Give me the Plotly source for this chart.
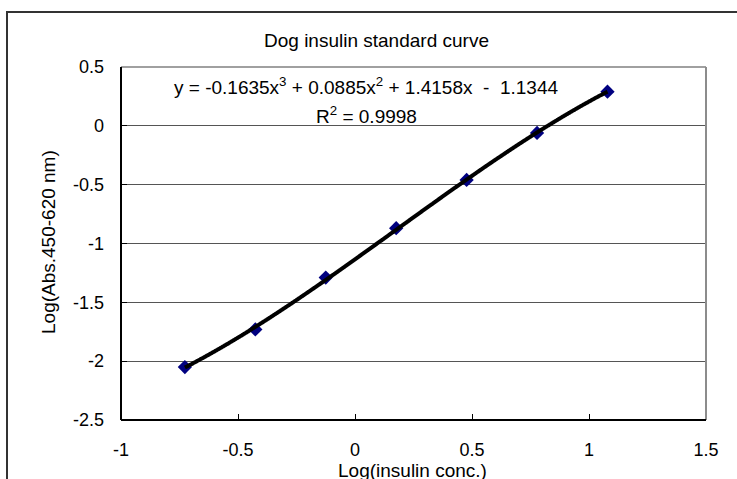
import numpy as np
import plotly.graph_objects as go

# Standard points: log10 of insulin concentration vs log10 of corrected absorbance
log_conc = [-0.727, -0.426, -0.125, 0.176, 0.477, 0.778, 1.079]
log_abs = [-2.05, -1.73, -1.29, -0.87, -0.46, -0.06, 0.29]

# Third-order polynomial trendline coefficients (highest power first)
trend_coef = [-0.1635, 0.0885, 1.4158, -1.1344]
r_squared = 0.9998

x_ticks = [-1, -0.5, 0, 0.5, 1, 1.5]
x_tick_text = ["-1", "-0.5", "0", "0.5", "1", "1.5"]
y_ticks = [-2.5, -2, -1.5, -1, -0.5, 0, 0.5]
y_tick_text = ["-2.5", "-2", "-1.5", "-1", "-0.5", "0", "0.5"]

FONT = "Liberation Sans, Arial, sans-serif"
W, H = 737, 479
L, R, T, B = 121, 31, 67, 59
PW, PH = W - L - R, H - T - B


def px_x(p):
    return (p - L) / PW


def px_y(p):
    return (H - B - p) / PH


fit_x = np.linspace(min(log_conc), max(log_conc), 400)
fit_y = np.polyval(trend_coef, fit_x)

fig = go.Figure()
fig.add_trace(go.Scatter(
    x=log_conc, y=log_abs, mode="markers",
    marker=dict(symbol="diamond", size=11, color="#000080",
                line=dict(width=0)),
    showlegend=False, hoverinfo="x+y"))
fig.add_trace(go.Scatter(
    x=fit_x, y=fit_y, mode="lines",
    line=dict(color="black", width=4, shape="spline"),
    showlegend=False, hoverinfo="skip"))

tick_font = dict(family=FONT, size=18, color="black")

fig.update_xaxes(
    range=[-1, 1.5], tickvals=x_ticks, ticktext=x_tick_text,
    showgrid=False, zeroline=False, showline=False,
    ticks="inside", ticklen=6, tickwidth=1, tickcolor="black",
    tickfont=tick_font, ticklabelstandoff=17)
fig.update_yaxes(
    range=[-2.5, 0.5], tickvals=y_ticks, ticktext=y_tick_text,
    showgrid=True, gridcolor="#555555", gridwidth=1,
    zeroline=False, showline=False,
    ticks="inside", ticklen=6, tickwidth=1, tickcolor="black",
    tickfont=tick_font, ticklabelstandoff=16)

shapes = [
    # chart frame
    dict(type="rect", xref="paper", yref="paper",
         x0=px_x(7), x1=px_x(760), y0=px_y(500), y1=px_y(12),
         line=dict(color="#333333", width=2), layer="above"),
    # plot area frame: grey top and right
    dict(type="line", xref="paper", yref="paper", x0=0, x1=1, y0=1, y1=1,
         line=dict(color="#a0a0a0", width=2), layer="above"),
    dict(type="line", xref="paper", yref="paper", x0=1, x1=1, y0=0, y1=1,
         line=dict(color="#8c8c8c", width=2), layer="above"),
    # black value and category axes
    dict(type="line", xref="paper", yref="paper", x0=0, x1=0, y0=0, y1=1,
         line=dict(color="black", width=2), layer="above"),
    dict(type="line", xref="paper", yref="paper", x0=0, x1=1, y0=0, y1=0,
         line=dict(color="black", width=2), layer="above"),
]

eq_text = ("y = -%.4fx<sup>3</sup> + %.4fx<sup>2</sup> + %.4fx  -  %.4f"
           % (-trend_coef[0], trend_coef[1], trend_coef[2], -trend_coef[3]))

annotations = [
    dict(text="Dog insulin standard curve", xref="paper", yref="paper",
         x=px_x(376), y=px_y(40), showarrow=False, xanchor="center",
         yanchor="middle", font=dict(family=FONT, size=19, color="black")),
    dict(text=eq_text, xref="paper", yref="paper",
         x=px_x(366), y=px_y(86), showarrow=False, xanchor="center",
         yanchor="middle", font=dict(family=FONT, size=19, color="black")),
    dict(text="R<sup>2</sup> = %.4f" % r_squared, xref="paper", yref="paper",
         x=px_x(366), y=px_y(115), showarrow=False, xanchor="center",
         yanchor="middle", font=dict(family=FONT, size=19, color="black")),
    dict(text="Log(Abs.450-620 nm)", xref="paper", yref="paper",
         x=px_x(48), y=px_y(242), showarrow=False, textangle=-90,
         xanchor="center", yanchor="middle",
         font=dict(family=FONT, size=19, color="black")),
    dict(text="Log(insulin conc.)", xref="paper", yref="paper",
         x=px_x(412), y=px_y(470), showarrow=False, xanchor="center",
         yanchor="middle", font=dict(family=FONT, size=19, color="black")),
]

fig.update_layout(
    width=W, height=H,
    margin=dict(l=L, r=R, t=T, b=B),
    paper_bgcolor="white", plot_bgcolor="white",
    shapes=shapes, annotations=annotations,
    showlegend=False,
)

fig.write_html("out.html")
